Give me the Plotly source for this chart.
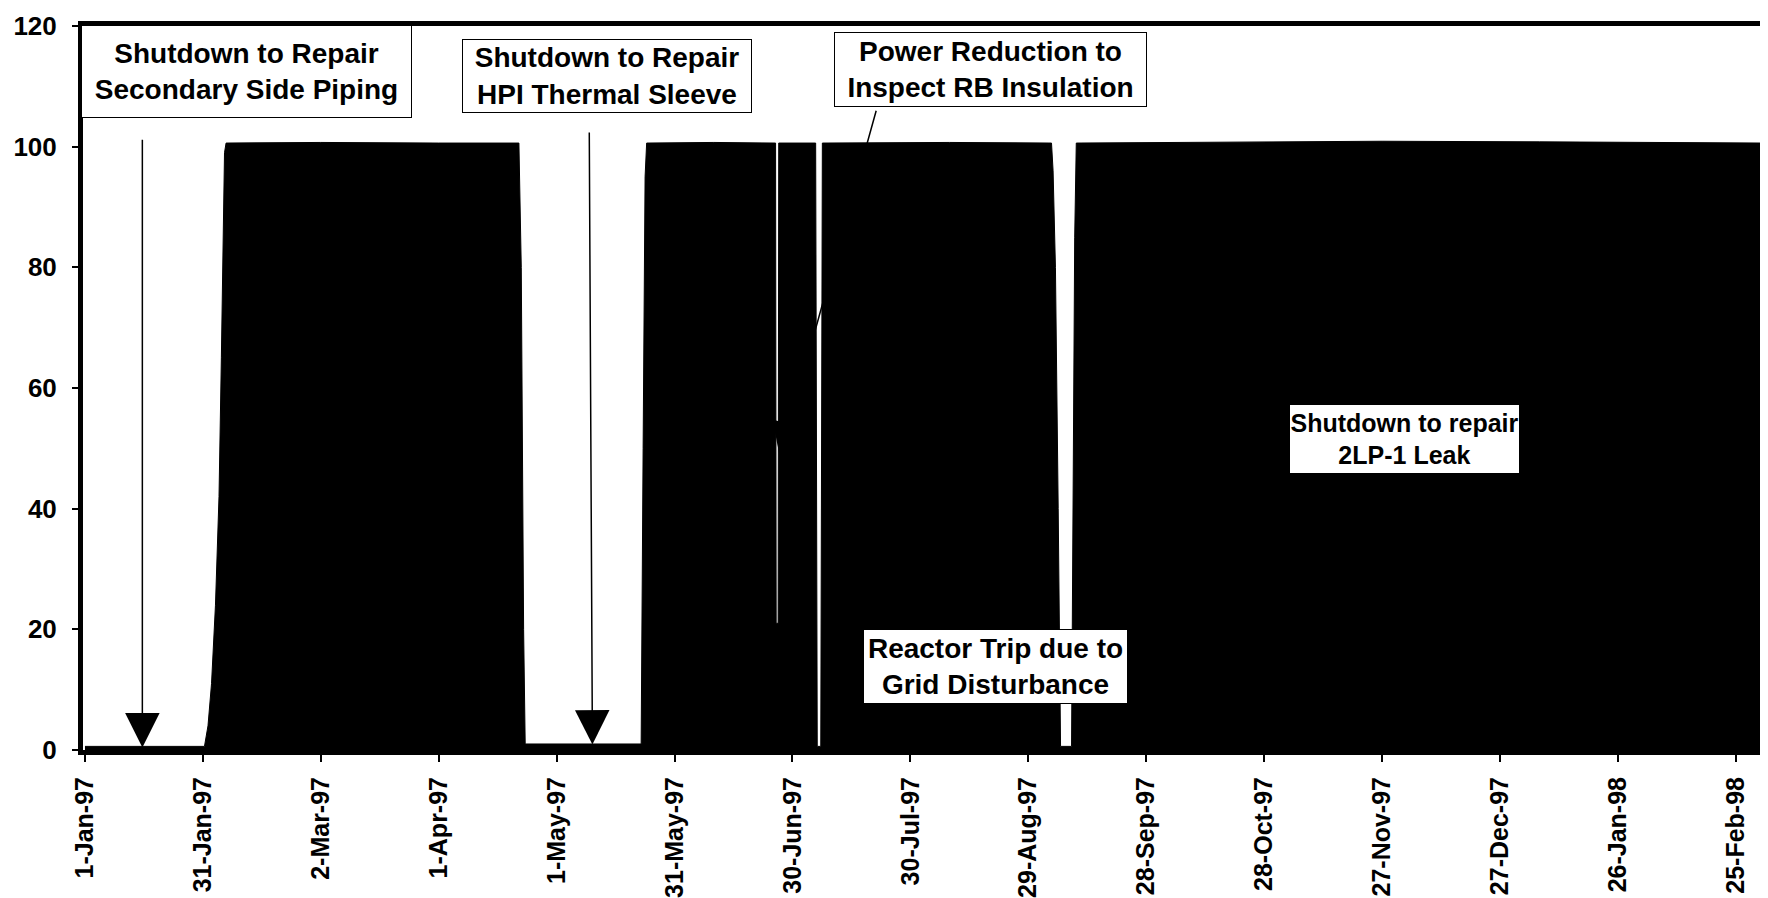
import pandas as pd
import plotly.graph_objects as go

START = pd.Timestamp("1997-01-01")

# Reactor power (% of full power); day offsets from 1-Jan-97
day_offset = [0, 30.4, 31.3, 32.2, 33.2, 34.1, 34.7, 35.1, 35.5, 35.9,
              60, 90, 110.4, 111.0, 111.6, 112.0,
              141.5, 142.0, 142.5, 142.9, 160,
              175.7, 175.85, 176.35, 176.5,
              185.9, 186.3, 187.2, 187.6, 220,
              245.9, 246.3, 246.9, 247.6, 248.2, 251.0, 251.4, 251.8, 252.2,
              290, 330, 370, 400, 427.2]
power_pct = [0.6, 0.6, 4, 11, 24, 42, 65, 85, 99, 100.6,
             100.7, 100.6, 100.6, 80, 20, 1.0,
             1.0, 50, 95, 100.6, 100.7,
             100.6, 21, 21, 100.6,
             100.6, 0.6, 0.6, 100.6, 100.7,
             100.6, 96, 80, 40, 0.6, 0.6, 40, 85, 100.6,
             100.7, 100.9, 100.8, 100.7, 100.6]

tick_dates = ["1997-01-01", "1997-01-31", "1997-03-02", "1997-04-01", "1997-05-01",
              "1997-05-31", "1997-06-30", "1997-07-30", "1997-08-29", "1997-09-28",
              "1997-10-28", "1997-11-27", "1997-12-27", "1998-01-26", "1998-02-25"]
tick_labels = ["1-Jan-97", "31-Jan-97", "2-Mar-97", "1-Apr-97", "1-May-97",
               "31-May-97", "30-Jun-97", "30-Jul-97", "29-Aug-97", "28-Sep-97",
               "28-Oct-97", "27-Nov-97", "27-Dec-97", "26-Jan-98", "25-Feb-98"]
y_ticks = [0, 20, 40, 60, 80, 100, 120]

dates = [START + pd.Timedelta(days=d) for d in day_offset]

FONT = "Liberation Sans, Arial, sans-serif"
# target plot-area edges on screen (px); page body adds an 8px offset
L, R, T, B = 83, 1764, 26, 750
OFF = 8


def px(xp):
    return (xp - L) / (R - L)


def py(yp):
    return (B - yp) / (B - T)


def d(day):
    return START + pd.Timedelta(days=day)


fig = go.Figure()
fig.add_trace(go.Scatter(
    x=dates, y=power_pct, mode="lines", fill="tozeroy",
    line=dict(color="black", width=1), fillcolor="black",
    hoverinfo="skip", showlegend=False,
))

# text boxes: (text, centre x px, centre y px, width, height, font size)
boxes = [
    ("Shutdown to Repair<br>Secondary Side Piping", 246.5, 71.5, 331, 93, 28),
    ("Shutdown to Repair<br>HPI Thermal Sleeve", 607, 76, 290, 74, 28),
    ("Power Reduction to<br>Inspect RB Insulation", 990.5, 69.5, 313, 75, 28),
    ("Reactor Trip due to<br>Grid Disturbance", 995.5, 666.5, 265, 75, 28),
    ("Shutdown to repair<br>2LP-1 Leak", 1404.5, 439, 231, 70, 25),
]

annotations = []
# arrows: (tail day, tail y, tip day, tip y)
arrows = [
    (14.6, 101.4, 14.6, 0.4),
    (128.3, 102.6, 129.1, 0.9),
    (201.4, 106.2, 176.8, 48.5),
    (200.8, 19.9, 188.4, 27.3),
    (306.2, 49.7, 251.6, 35.3),
]
for tx, ty, hx, hy in arrows:
    annotations.append(dict(
        x=d(hx), y=hy, ax=d(tx), ay=ty, xref="x", yref="y", axref="x", ayref="y",
        text="", showarrow=True, arrowhead=2, arrowsize=4.6, arrowwidth=1.5,
        arrowcolor="black", standoff=0,
    ))
for text, cx, cy, w, h, fs in boxes:
    annotations.append(dict(
        x=px(cx), y=py(cy), xref="paper", yref="paper", xanchor="center", yanchor="middle",
        text=text, showarrow=False, align="center", valign="middle",
        width=w - 2, height=h - 2, bgcolor="white", bordercolor="black",
        borderwidth=1, borderpad=0,
        font=dict(family=FONT, size=fs, color="black", weight="bold"),
    ))

fig.update_layout(
    width=1768 - OFF, height=898 - OFF,
    margin=dict(l=L - OFF, r=1768 - R, t=T - OFF, b=898 - B, autoexpand=False),
    paper_bgcolor="white", plot_bgcolor="white",
    showlegend=False,
    annotations=annotations,
    xaxis=dict(
        type="date", range=["1996-12-31 12:00", "1998-03-04 04:00"],
        tickmode="array", tickvals=tick_dates, ticktext=tick_labels,
        tickangle=-90, ticks="outside", ticklen=7, tickwidth=1.5, tickcolor="black",
        showgrid=False, zeroline=False, showline=True, mirror=True,
        linewidth=5, linecolor="black", ticklabelstandoff=5, automargin=False,
        tickfont=dict(family=FONT, size=25, color="black", weight="bold"),
    ),
    yaxis=dict(
        range=[0, 120], tickmode="array", tickvals=y_ticks,
        ticks="outside", ticklen=6, tickwidth=1.5, tickcolor="black",
        showgrid=False, zeroline=False, showline=True, mirror=True,
        linewidth=5, linecolor="black", ticklabelstandoff=10, automargin=False,
        tickfont=dict(family=FONT, size=26, color="black", weight="bold"),
    ),
)

fig.write_html("out.html")
